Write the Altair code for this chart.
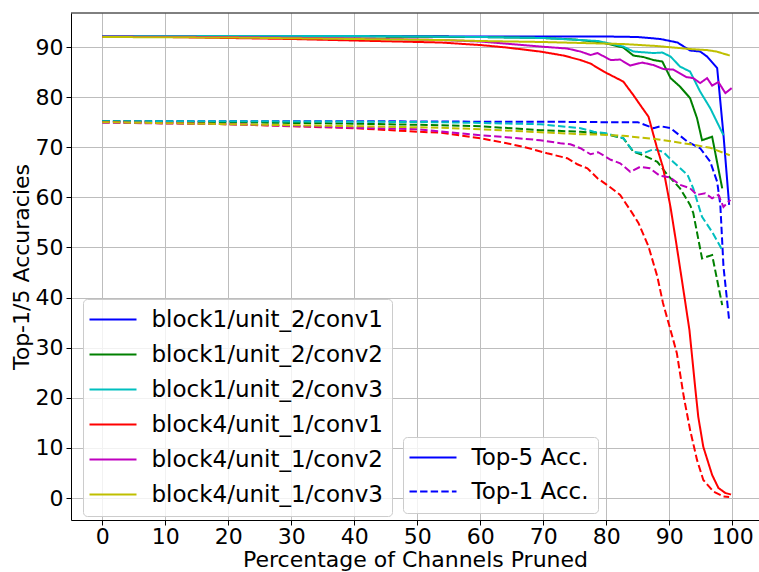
import altair as alt
import pandas as pd

LAYERS = ["block1/unit_2/conv1", "block1/unit_2/conv2", "block1/unit_2/conv3",
          "block4/unit_1/conv1", "block4/unit_1/conv2", "block4/unit_1/conv3"]
COLORS = ["#0000ff", "#008000", "#00bfbf", "#ff0000", "#bf00bf", "#bfbf00"]
KINDS = ["Top-5 Acc.", "Top-1 Acc."]
X_TICKS = [0, 10, 20, 30, 40, 50, 60, 70, 80, 90, 100]
Y_TICKS = [0, 10, 20, 30, 40, 50, 60, 70, 80, 90]

# block1/unit_2/conv1
X5_B1C1 = [0, 20, 40, 60, 70, 80, 85, 88.6, 91.3, 93.3, 94.9, 96.0, 97.6, 98.6, 99.5]
Y5_B1C1 = [92.2, 92.2, 92.2, 92.1, 92.1, 92.1, 92.0, 91.6, 90.9, 89.3, 89.1, 88.1, 85.8, 72.5, 58.5]
X1_B1C1 = [0, 20, 40, 60, 70, 80, 85, 87.5, 88.6, 90.2, 92.9, 94.9, 96.5, 97.6, 98.1, 98.6, 99.5]
Y1_B1C1 = [75.2, 75.2, 75.2, 75.1, 75.1, 75.0, 75.0, 73.8, 74.2, 73.8, 71.1, 69.8, 67.1, 63.1, 58.5, 46.2, 35.5]

# block1/unit_2/conv2
X5_B1C2 = [0, 20, 40, 60, 70, 75, 78.7, 80, 82.7, 84.3, 85.9, 87.5, 88.9, 90.2, 91.7, 93.3, 94.4, 95.2, 96.8, 98.4]
Y5_B1C2 = [92.2, 92.2, 92.1, 92.0, 91.8, 91.5, 91.0, 90.7, 89.9, 88.3, 88.0, 87.4, 87.1, 83.8, 82.1, 79.8, 75.8, 71.4, 72.1, 61.8]
X1_B1C2 = [0, 20, 40, 53.7, 60, 69.5, 75.9, 80, 82.7, 84.3, 85.9, 88.1, 89.7, 91.7, 93.3, 93.8, 95.2, 96.8, 98.4]
Y1_B1C2 = [75.2, 75.0, 74.7, 74.4, 74.2, 73.4, 73.1, 72.6, 71.8, 69.1, 68.4, 67.1, 64.5, 61.8, 58.5, 56.9, 47.8, 48.5, 38.5]

# block1/unit_2/conv3
X5_B1C3 = [0, 20, 40, 60, 70, 78.7, 82.7, 84.3, 87.5, 88.9, 90.2, 91.7, 93.3, 94.9, 96.5, 98.6]
Y5_B1C3 = [92.2, 92.2, 92.2, 92.0, 91.8, 91.2, 90.1, 89.1, 88.8, 88.9, 88.1, 86.1, 85.1, 81.1, 77.8, 72.4]
X1_B1C3 = [0, 20, 40, 53.7, 69.5, 75.9, 78, 80, 82.7, 84.3, 85.9, 87.5, 89.0, 90.6, 92.9, 93.8, 95.2, 96.8, 98.4]
Y1_B1C3 = [75.2, 75.2, 75.1, 75.0, 74.6, 73.8, 73.1, 72.8, 71.8, 69.1, 68.8, 69.6, 69.1, 67.1, 64.5, 61.8, 56.1, 53.1, 49.5]

# block4/unit_1/conv1
X5_B4C1 = [0, 10, 20, 30, 40, 53.7, 60, 64.2, 69.5, 73.2, 75.9, 77.5, 79.6, 82.7, 84.3, 85.4, 86.7,
           88.0, 89.0, 90.2, 91.1, 92.4, 93.2, 94.1, 94.6, 95.4, 96.8, 97.8, 98.9, 99.8]
Y5_B4C1 = [92.0, 92.0, 91.8, 91.6, 91.3, 90.9, 90.4, 89.9, 89.1, 88.3, 87.4, 86.7, 85.1, 83.1, 80.4, 78.4, 76.1,
           70.1, 66.0, 58.0, 50.9, 40.2, 33.5, 22.2, 16.2, 10.2, 4.6, 2.0, 1.0, 0.7]
X1_B4C1 = [0, 20, 30, 40, 50, 53.7, 60, 64.2, 67.4, 70.6, 73.8, 75.4, 77.0, 78.6, 80.1, 82.2, 84.1, 85.1,
           86.7, 88.1, 89.0, 90.2, 91.2, 92.3, 93.3, 94.4, 95.4, 97.0, 98.6, 99.5]
Y1_B4C1 = [75.0, 74.6, 74.2, 73.8, 73.1, 72.9, 71.8, 70.8, 69.9, 68.8, 67.8, 66.6, 65.8, 63.8, 62.5, 60.5, 56.9, 54.9,
           50.2, 44.2, 38.9, 33.5, 28.9, 20.2, 13.6, 7.6, 3.6, 1.3, 0.3, 0.2]

# block4/unit_1/conv2
X5_B4C2 = [0, 20, 40, 53.7, 60, 69.5, 73.8, 75.9, 77.5, 78.6, 80.7, 82.2, 83.8, 85.7, 87.5, 89.1, 90.6,
           92.7, 93.8, 94.9, 96.0, 96.8, 97.8, 98.9, 99.9]
Y5_B4C2 = [92.1, 92.0, 91.7, 91.4, 91.1, 90.1, 89.7, 89.1, 88.4, 88.8, 87.4, 87.5, 86.3, 86.9, 86.4, 85.6, 85.5,
           84.0, 83.8, 82.8, 83.8, 82.3, 83.0, 80.8, 81.8]
X1_B4C2 = [0, 20, 31.4, 40, 50, 60, 64.2, 69.5, 72.7, 74.3, 75.9, 77.5, 78.7, 80.7, 82.2, 83.8, 85.4, 86.9,
           88.5, 90.1, 91.7, 93.3, 94.4, 95.7, 96.8, 97.8, 98.6, 99.7]
Y1_B4C2 = [74.9, 74.6, 74.2, 73.9, 73.6, 72.4, 72.0, 71.4, 70.8, 70.6, 69.8, 68.6, 69.0, 67.5, 66.8, 65.1, 66.1, 65.8,
           64.3, 64.0, 62.5, 61.8, 60.5, 60.8, 59.8, 60.5, 58.1, 59.5]

# block4/unit_1/conv3
X5_B4C3 = [0, 20, 40, 53.7, 60, 70, 79.2, 82.7, 88.0, 93.3, 95.9, 97.5, 99.6]
Y5_B4C3 = [92.0, 91.9, 91.6, 91.4, 91.2, 91.0, 90.7, 90.6, 90.2, 89.6, 89.4, 89.1, 88.3]
X1_B4C3 = [0, 20, 40, 53.7, 60, 69.5, 75.9, 79.2, 82.7, 88.0, 93.3, 96.5, 99.6]
Y1_B4C3 = [75.0, 74.6, 74.2, 73.9, 73.6, 73.0, 72.6, 72.5, 72.3, 71.6, 70.6, 69.9, 68.4]

SERIES = [
    (LAYERS[0], X5_B1C1, Y5_B1C1, X1_B1C1, Y1_B1C1),
    (LAYERS[1], X5_B1C2, Y5_B1C2, X1_B1C2, Y1_B1C2),
    (LAYERS[2], X5_B1C3, Y5_B1C3, X1_B1C3, Y1_B1C3),
    (LAYERS[3], X5_B4C1, Y5_B4C1, X1_B4C1, Y1_B4C1),
    (LAYERS[4], X5_B4C2, Y5_B4C2, X1_B4C2, Y1_B4C2),
    (LAYERS[5], X5_B4C3, Y5_B4C3, X1_B4C3, Y1_B4C3),
]

rows = []
for layer, x5, y5, x1, y1 in SERIES:
    for xv, yv in zip(x5, y5):
        rows.append({"layer": layer, "kind": KINDS[0], "x": xv, "y": yv})
    for xv, yv in zip(x1, y1):
        rows.append({"layer": layer, "kind": KINDS[1], "x": xv, "y": yv})
df = pd.DataFrame(rows)

FONT = "DejaVu Sans"
W, H = 688, 507
LEG_PATH = "M-2.35,0H2.35"

lines = alt.Chart(df).mark_line(strokeWidth=2, clip=True).encode(
    x=alt.X("x:Q",
            scale=alt.Scale(domain=[-4.97, 104.24], nice=False, zero=False),
            axis=alt.Axis(values=X_TICKS, title="Percentage of Channels Pruned")),
    y=alt.Y("y:Q",
            scale=alt.Scale(domain=[-4.39, 96.79], nice=False, zero=False),
            axis=alt.Axis(values=Y_TICKS, title="Top-1/5 Accuracies")),
    color=alt.Color("layer:N",
                    scale=alt.Scale(domain=LAYERS, range=COLORS),
                    legend=alt.Legend(title=None, orient="none", legendX=12, legendY=286,
                                      symbolType=LEG_PATH, symbolSize=400, symbolOffset=9.5,
                                      symbolStrokeWidth=2, labelOffset=27, labelLimit=400,
                                      labelFontSize=23, labelFont=FONT, labelColor="black",
                                      rowPadding=11, padding=9,
                                      strokeColor="#cccccc", fillColor="rgba(255,255,255,0.8)",
                                      cornerRadius=4)),
    strokeDash=alt.StrokeDash("kind:N",
                              scale=alt.Scale(domain=KINDS, range=[[1, 0], [7.4, 3.2]]),
                              legend=alt.Legend(title=None, orient="none", legendX=332, legendY=424,
                                                symbolType=LEG_PATH, symbolSize=400, symbolOffset=9.5,
                                                symbolStrokeWidth=2, symbolStrokeColor="#0000ff",
                                                labelOffset=27, labelLimit=400,
                                                labelFontSize=23, labelFont=FONT, labelColor="black",
                                                rowPadding=10, padding=9,
                                                strokeColor="#cccccc", fillColor="rgba(255,255,255,0.8)",
                                                cornerRadius=4)),
    order=alt.Order("x:Q"),
)

top_spine = alt.Chart(pd.DataFrame({"s": [0]})).mark_rule(color="black", strokeWidth=1).encode(
    x=alt.value(0), x2=alt.value(W), y=alt.value(0)
)

chart = alt.layer(lines, top_spine).properties(
    width=W, height=H,
    padding={"left": 71, "top": 13, "right": 0, "bottom": 52},
    autosize=alt.AutoSizeParams(type="none"),
).configure_view(stroke=None).configure_axis(
    labelFont=FONT, labelFontSize=22, labelColor="black",
    titleFont=FONT, titleFontSize=22, titleFontWeight="normal", titleColor="black",
    domainColor="black", domainWidth=1, tickColor="black", tickSize=5, tickWidth=1,
    labelPadding=3, gridColor="#bdbdbd", gridWidth=1,
).configure_axisX(titlePadding=2, labelPadding=1).configure_axisY(titlePadding=2, labelPadding=3)

chart.save("out.html", embed_options={"renderer": "svg", "actions": False})
